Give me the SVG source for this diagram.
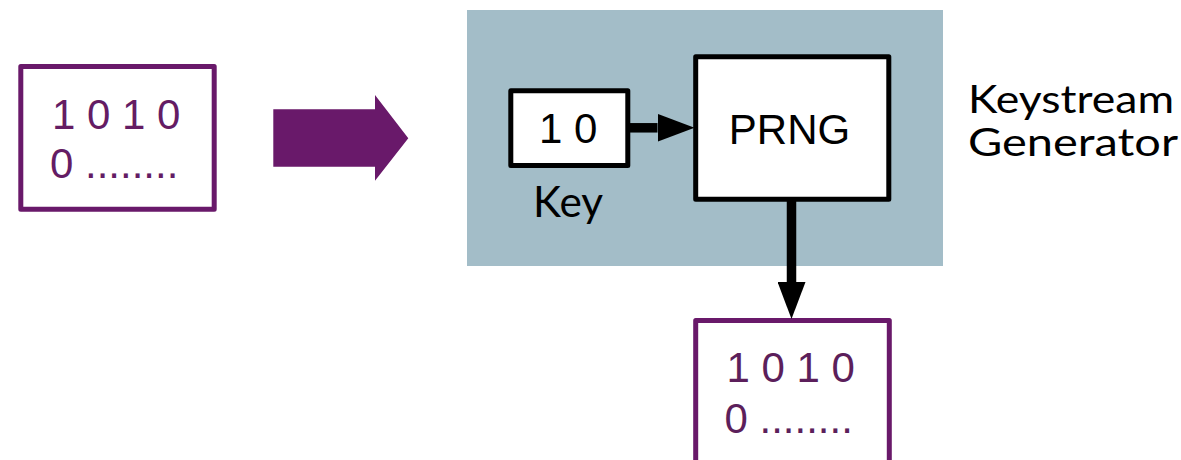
<svg xmlns="http://www.w3.org/2000/svg" width="1181" height="460" viewBox="0 0 1181 460">
  <defs>
    <style>
      .bits-box { fill: #ffffff; stroke: #69196a; stroke-width: 5; stroke-linejoin: round; }
      .block { fill: #ffffff; stroke: #000000; stroke-width: 5; stroke-linejoin: round; }
      .bits { font-family: "Liberation Sans", Arial, sans-serif; font-size: 42px; fill: #641c64; }
      .bits-out { fill: #5c1f5b; }
      .mono-label { font-family: "Liberation Sans", Arial, sans-serif; font-size: 42px; fill: #000000; }
      .caption { font-family: Lato, "Open Sans", sans-serif; font-size: 42px; fill: #000000; }
      .title { font-family: Lato, "Open Sans", sans-serif; font-size: 39px; fill: #000000; }
      .link { stroke: #000000; stroke-width: 9.5; fill: none; }
    </style>
    <marker id="head" markerUnits="userSpaceOnUse" markerWidth="37" markerHeight="28" refX="0" refY="14" orient="auto">
      <path d="M0,0 L37,14 L0,28 Z" fill="#000000"/>
    </marker>
  </defs>

  <rect width="1181" height="460" fill="#ffffff"/>

  <!-- plaintext bit string -->
  <g id="plain-bits">
    <rect class="bits-box" x="20.8" y="66.5" width="193.4" height="142.7"/>
    <text class="bits" x="52" y="129">1 0 1 0</text>
    <text class="bits" x="50" y="178">0 ........</text>
  </g>

  <!-- block arrow into the generator -->
  <g id="feed-arrow">
    <polygon points="273.3,109.3 375,109.3 375,95 408.3,138.3 375,180.7 375,166.7 273.3,166.7" fill="#69196a"/>
  </g>

  <!-- keystream generator housing -->
  <g id="generator">
    <rect x="467" y="10" width="476" height="256" fill="#a3bdc8"/>
  </g>

  <g id="key">
    <rect class="block" x="510.8" y="90.8" width="117" height="74.7"/>
    <text class="mono-label" x="539" y="143.3">1 0</text>
    <text class="caption" x="533" y="217" textLength="70" lengthAdjust="spacingAndGlyphs">Key</text>
  </g>

  <g id="prng">
    <rect class="block" x="695.7" y="56.8" width="193.1" height="142.4"/>
    <text class="mono-label" x="789.5" y="144.3" text-anchor="middle">PRNG</text>
  </g>

  <g id="generator-label">
    <text class="title" x="968" y="113" textLength="206" lengthAdjust="spacingAndGlyphs">Keystream</text>
    <text class="title" x="968" y="156" textLength="210" lengthAdjust="spacingAndGlyphs">Generator</text>
  </g>

  <!-- keystream bit string -->
  <g id="keystream-bits">
    <rect class="bits-box" x="695.7" y="320.5" width="193.6" height="143"/>
    <text class="bits bits-out" x="726.5" y="381.7">1 0 1 0</text>
    <text class="bits bits-out" x="724.5" y="432.7">0 ........</text>
  </g>

  <!-- connectors -->
  <g id="connectors">
    <line class="link" x1="630" y1="127.8" x2="657.5" y2="127.8" marker-end="url(#head)"/>
    <line class="link" x1="791.5" y1="201" x2="791.5" y2="282" marker-end="url(#head)"/>
  </g>
</svg>
